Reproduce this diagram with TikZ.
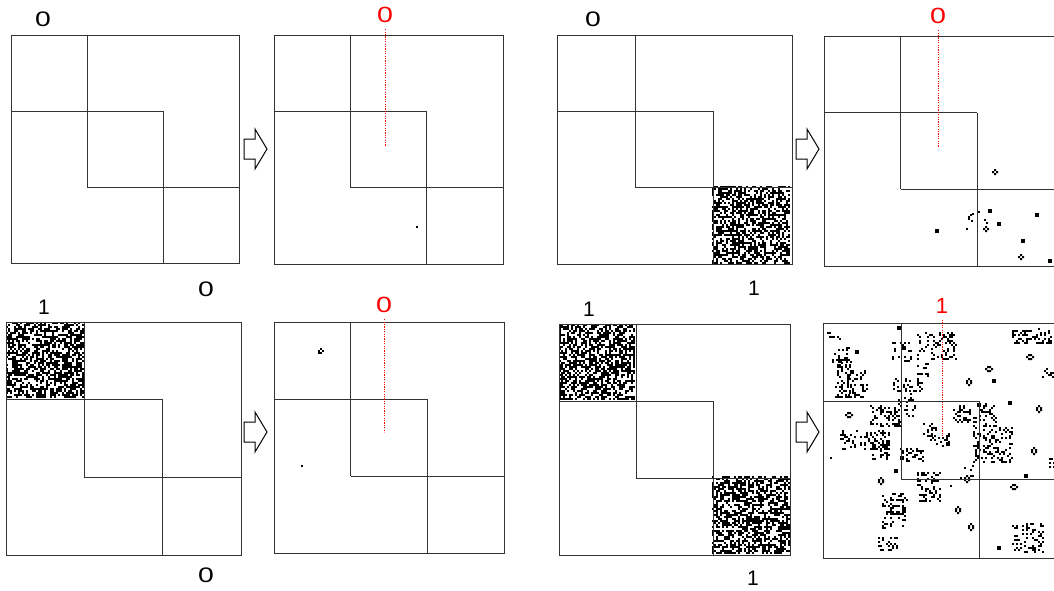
\documentclass[tikz,border=0pt]{standalone}
\usepackage{fontspec}
\setmainfont{Liberation Sans}
\usepackage{graphicx}
\usepackage{tikz}
\usetikzlibrary{arrows, arrows.meta, shapes, positioning, calc}
\usepackage{xcolor}

\tikzset{
	rejilla/.style={line width=0.5pt, black!80},
	etiq/.style={font=\fontsize{10.5}{12}\selectfont, inner sep=0pt},
	etiqroja/.style={font=\fontsize{11}{13}\selectfont, text=red, inner sep=0pt},
	guia/.style={red, dash pattern=on 0.6pt off 0.6pt, line width=0.5pt, shorten <=3pt},
	flecha/.style={line width=0.5pt, fill=white}
}

\newcommand{\cero}{\scalebox{1.35}[1]{0}}
\newcommand{\cerorojo}{\scalebox{1.3}[1]{0}}

% cuadricula con tres bloques en la diagonal
\newcommand{\rejilla}[4]{%
	\draw[rejilla] (#1,#2) rectangle ++(#3,#4);
	\draw[rejilla] (#1+#3/3,#2) -- ++(0,2*#4/3);
	\draw[rejilla] (#1,#2+#4/3) -- ++(2*#3/3,0);
	\draw[rejilla] (#1+2*#3/3,#2+#4/3) -- ++(0,2*#4/3);
	\draw[rejilla] (#1+#3/3,#2+2*#4/3) -- ++(2*#3/3,0);
}

% ruido aleatorio (celdas de 2px)
\newcommand{\manchas}[5]{%
	\foreach \i in {1,...,#3}{
		\foreach \j in {1,...,#4}{
			\pgfmathtruncatemacro\lleno{rnd<#5}
			\ifnum\lleno=1 \fill (#1+2*\i-2,#2+2*\j-2) rectangle ++(2,2);\fi
		}}
}
\newcommand{\celda}[2]{\fill (#1,#2) rectangle ++(2,2);}
\newcommand{\bloque}[2]{\fill (#1,#2) rectangle ++(4,4);}
\newcommand{\colmena}[2]{\fill (#1+2,#2) rectangle ++(2,2) (#1,#2+2) rectangle ++(2,4)
	(#1+4,#2+2) rectangle ++(2,4) (#1+2,#2+6) rectangle ++(2,2);}
\newcommand{\colmenah}[2]{\fill (#1+2,#2) rectangle ++(4,2) (#1,#2+2) rectangle ++(2,2)
	(#1+6,#2+2) rectangle ++(2,2) (#1+2,#2+4) rectangle ++(4,2);}
\newcommand{\tina}[2]{\fill (#1+2,#2) rectangle ++(2,2) (#1,#2+2) rectangle ++(2,2)
	(#1+4,#2+2) rectangle ++(2,2) (#1+2,#2+4) rectangle ++(2,2);}

% flecha de bloque
\newcommand{\flechab}[2]{%
	\draw[flecha] (#1,#2-10) -- ++(11,0) -- ++(0,-10) -- (#1+23,#2)
		-- (#1+11,#2+20) -- ++(0,-10) -- (#1,#2+10) -- cycle;
}

\begin{document}
\begin{tikzpicture}[x=0.5pt, y=-0.5pt]
	\useasboundingbox (0,0) rectangle (1054,590);
	\clip (0,0) rectangle (1054,590);
	\pgfmathsetseed{7}

	% Entrada 0 - 0
	\rejilla{11}{35}{228}{228}
	\node[etiq] (ea) at (43,19) {\cero};
	\node[etiq] (fa) at (206,289) {\cero};
	\flechab{244}{149}
	% Salida
	\celda{416}{226}
	\rejilla{274}{35}{229}{229}
	\node[etiqroja] (sa) at (385,15) {\cerorojo};
	\coordinate (ca) at (385,146);
	\draw[guia] (sa.south) -- (ca);

	% Entrada 0 - 1
	\manchas{712}{186}{39}{39}{0.55}
	\rejilla{557}{35}{235}{229}
	\node[etiq] (eb) at (593,19) {\cero};
	\node[etiq] (fb) at (754,288) {1};
	\flechab{796}{149}
	% Salida
	\tina{992}{169}
	\celda{968}{216} \celda{970}{214} \celda{972}{213} \celda{968}{218} \celda{971}{220}
	\celda{978}{211} \bloque{988}{209}
	\celda{984}{219} \celda{986}{222} \tina{983}{226}
	\celda{966}{228}
	\bloque{935}{229} \bloque{997}{222} \bloque{1035}{213} \bloque{1021}{239}
	\tina{1018}{254} \bloque{1048}{259}
	\rejilla{824}{36}{230}{230}
	\node[etiqroja] (sb) at (938,16) {\cerorojo};
	\coordinate (cb) at (938,147);
	\draw[guia] (sb.south) -- (cb);

	% Entrada 1 - 0
	\manchas{6}{322}{39}{38}{0.55}
	\rejilla{6}{322}{235}{233}
	\node[etiq] (ec) at (44,307) {1};
	\node[etiq] (fc) at (206,575) {\cero};
	\flechab{244}{432}
	% Salida
	\celda{320}{348} \celda{318}{350} \celda{322}{350} \celda{318}{352} \celda{320}{352}
	\celda{301}{465}
	\rejilla{274}{322}{230}{231}
	\node[etiqroja] (sc) at (384,305) {\cerorojo};
	\coordinate (cc) at (384,432);
	\draw[guia] (sc.south) -- (cc);

	% Entrada 1 - 1
	\manchas{559}{324}{38}{38}{0.55}
	\manchas{712}{476}{39}{39}{0.55}
	\rejilla{559}{324}{231}{231}
	\node[etiq] (ed) at (589,309) {1};
	\node[etiq] (fd) at (753,578) {1};
	\flechab{796}{432}
	% Salida
	\manchas{827}{332}{7}{4}{0.3}
	\bloque{897}{326}
	\manchas{832}{347}{10}{8}{0.35}
	\manchas{835}{362}{8}{18}{0.3}
	\manchas{848}{370}{10}{14}{0.28}
	\bloque{855}{350}
	\manchas{892}{342}{10}{10}{0.3}
	\manchas{917}{332}{20}{14}{0.25}
	\manchas{917}{363}{6}{7}{0.3}
	\colmena{966}{378} \colmenah{985}{366} \bloque{992}{379}
	\manchas{1012}{328}{20}{8}{0.28}
	\colmenah{1026}{354}
	\manchas{1042}{368}{6}{5}{0.35}
	\bloque{1008}{401} \colmena{1036}{405}
	\manchas{893}{378}{15}{7}{0.3}
	\manchas{898}{393}{10}{12}{0.28}
	\manchas{870}{405}{16}{11}{0.3}
	\colmenah{845}{412}
	\manchas{840}{430}{25}{10}{0.33}
	\celda{830}{457}
	\manchas{870}{440}{10}{10}{0.3}
	\manchas{900}{448}{12}{7}{0.3}
	\manchas{923}{423}{7}{7}{0.25}
	\manchas{930}{433}{10}{7}{0.25}
	\bloque{946}{442}
	\manchas{953}{405}{9}{9}{0.3}
	\manchas{973}{403}{12}{12}{0.3}
	\manchas{973}{427}{20}{18}{0.25}
	\colmena{1031}{447}
	\manchas{1049}{458}{3}{5}{0.4}
	\manchas{960}{465}{8}{7}{0.25}
	\bloque{894}{469}
	\manchas{917}{472}{12}{15}{0.3}
	\colmena{878}{477} \celda{950}{485} \colmena{964}{475}
	\colmenah{1010}{484} \bloque{1024}{474}
	\manchas{882}{493}{13}{18}{0.28}
	\manchas{878}{537}{10}{7}{0.35}
	\colmena{955}{506} \colmena{968}{523}
	\manchas{1012}{523}{16}{15}{0.25}
	\bloque{997}{546}
	\rejilla{823}{323}{234}{235}
	\node[etiqroja] (sd) at (942,306) {1};
	\coordinate (cd) at (942,437);
	\draw[guia] (sd.south) -- (cd);
\end{tikzpicture}
\end{document}
